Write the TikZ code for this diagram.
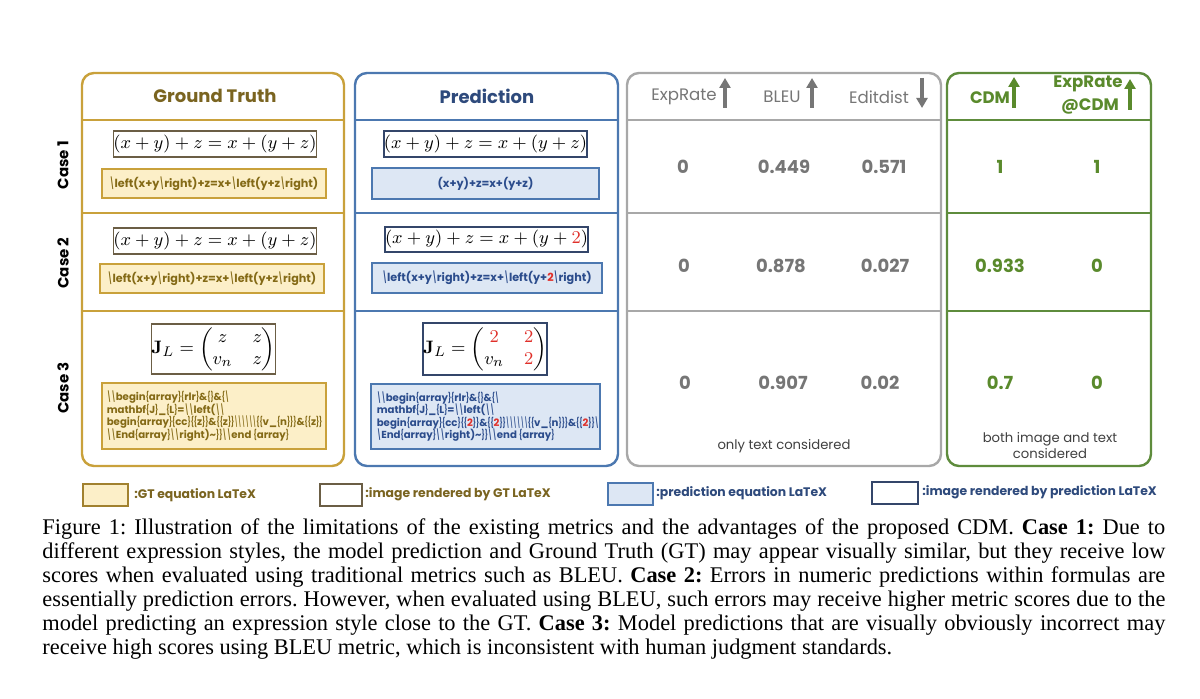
\documentclass[tikz,border=0pt]{standalone}
\usepackage[no-math]{fontspec}
\usepackage{amsmath}
\usepackage{graphicx}
\usetikzlibrary{arrows.meta}
\setmainfont{Poppins}
\newfontfamily\capfont{Liberation Serif}
\definecolor{gtb}{HTML}{C9A13B}
\definecolor{gtf}{HTML}{FCEFC8}
\definecolor{gtt}{HTML}{7A6420}
\definecolor{gtc}{HTML}{846A16}
\definecolor{gti}{HTML}{6B5E45}
\definecolor{prb}{HTML}{4C78B0}
\definecolor{prf}{HTML}{DDE7F4}
\definecolor{prt}{HTML}{2E4A7C}
\definecolor{prc}{HTML}{2B4C8C}
\definecolor{pri}{HTML}{34466A}
\definecolor{grb}{HTML}{A8A8A8}
\definecolor{grt}{HTML}{767676}
\definecolor{gnb}{HTML}{5E8C3C}
\definecolor{gnt}{HTML}{5A8A2C}
\definecolor{rd}{HTML}{E0302A}
\newcommand{\bs}{\scalebox{0.55}[1]{\textbackslash}}
\newcommand{\bsn}{\scalebox{0.45}[1]{\textbackslash}}
\newcommand{\lb}{\scalebox{0.62}[1]{\{}}
\newcommand{\rb}{\scalebox{0.62}[1]{\}}}
\newcommand{\R}[1]{\textcolor{rd}{#1}}
\begin{document}
\begin{tikzpicture}[x=0.5pt,y=-0.5pt,
  panel/.style={draw, line width=1.2pt, rounded corners=6pt, fill=white},
  divider/.style={line width=1.2pt},
  imgbox/.style={draw, line width=0.8pt, fill=white, inner sep=0pt},
  gtcode/.style={draw=gtb, line width=0.8pt, fill=gtf, inner sep=0pt, text=gtc, font=\fontsize{5.6}{6.3}\selectfont\bfseries},
  prcode/.style={draw=prb, line width=0.8pt, fill=prf, inner sep=0pt, text=prc, font=\fontsize{5.6}{6.3}\selectfont\bfseries},
  smallcode/.style={font=\fontsize{5.1}{6.3}\selectfont\bfseries},
  eqfont/.style={font=\fontsize{8.9}{10}\selectfont},
  matfont/.style={font=\fontsize{9.3}{11}\selectfont},
  casel/.style={rotate=90, font=\fontsize{7.5}{9}\selectfont\bfseries, text=black},
  hdr/.style={font=\fontsize{9}{11}\selectfont\bfseries},
  mhdr/.style={font=\fontsize{8.3}{10}\selectfont, text=grt},
  nhdr/.style={font=\fontsize{8.3}{10}\selectfont\bfseries, text=gnt},
  gval/.style={font=\fontsize{9}{11}\selectfont\bfseries, text=grt},
  nval/.style={font=\fontsize{9}{11}\selectfont\bfseries, text=gnt},
  garrow/.style={line width=1.6pt, draw=grt, -{Triangle[width=5.5pt,length=5pt]}},
  narrow/.style={line width=1.6pt, draw=gnt, -{Triangle[width=5.5pt,length=5pt]}},
  legtext/.style={font=\fontsize{6.2}{8}\selectfont\bfseries, anchor=west, inner sep=0pt},
]
\useasboundingbox (0,0) rectangle (1200,699);
\fill[white] (0,0) rectangle (1200,699);

% panels
\draw[panel, draw=gtb] (82,73) rectangle (344,466);
\draw[panel, draw=prb] (355,73) rectangle (618,466);
\draw[panel, draw=grb] (627,73) rectangle (941,466);
\draw[panel, draw=gnb] (947,73) rectangle (1151,466);
\foreach \yy in {120,213,311}{
  \draw[divider, gtb] (82,\yy) -- (344,\yy);
  \draw[divider, prb] (355,\yy) -- (618,\yy);
  \draw[divider, grb] (627,\yy) -- (941,\yy);
  \draw[divider, gnb] (947,\yy) -- (1151,\yy);
}

% headers
\node[hdr, text=gtt] (hgt) at (215,96) {Ground Truth};
\node[hdr, text=prt] (hpr) at (487,96) {Prediction};
\node[mhdr] (hexp) at (684,97) {ExpRate};
\node[mhdr] (hbleu) at (782,97) {BLEU};
\node[mhdr] (hedit) at (879,97) {Editdist};
\node[nhdr] (hcdm) at (990,98) {CDM};
\node[nhdr] (hexpc) at (1088,84) {ExpRate};
\node[nhdr] (hatc) at (1090,106) {@CDM};
\coordinate (a1s) at (725,108); \coordinate (a1e) at (725,78);
\coordinate (a2s) at (812,108); \coordinate (a2e) at (812,78);
\coordinate (a3s) at (922,78);  \coordinate (a3e) at (922,108);
\coordinate (a4s) at (1014,108); \coordinate (a4e) at (1014,77);
\coordinate (a5s) at (1130,110); \coordinate (a5e) at (1130,79);
\draw[garrow] (a1s) -- (a1e);
\draw[garrow] (a2s) -- (a2e);
\draw[garrow] (a3s) -- (a3e);
\draw[narrow] (a4s) -- (a4e);
\draw[narrow] (a5s) -- (a5e);

% case labels
\node[casel] (c1) at (63,165) {Case 1};
\node[casel] (c2) at (63,263) {Case 2};
\node[casel] (c3) at (63,388) {Case 3};

% Case 1
\node[imgbox, draw=gti, minimum width=87pt, minimum height=13pt, eqfont] (g1i) at (215,144) {$(x+y)+z=x+(y+z)$};
\node[gtcode, minimum width=112pt, minimum height=14.5pt] (g1c) at (214,183.5) {\bs left(x+y\bs right)+z=x+\bs left(y+z\bs right)};
\node[imgbox, draw=pri, minimum width=86.5pt, minimum height=13pt, eqfont] (p1i) at (485.5,144) {$(x+y)+z=x+(y+z)$};
\node[prcode, minimum width=113.5pt, minimum height=15.5pt] (p1c) at (485.5,183.5) {(x+y)+z=x+(y+z)};

% Case 2
\node[imgbox, draw=gti, minimum width=87pt, minimum height=13pt, eqfont] (g2i) at (215,241) {$(x+y)+z=x+(y+z)$};
\node[gtcode, minimum width=112pt, minimum height=14.5pt] (g2c) at (212,278.5) {\bs left(x+y\bs right)+z=x+\bs left(y+z\bs right)};
\node[imgbox, draw=pri, minimum width=89.5pt, minimum height=12.5pt, eqfont] (p2i) at (486.5,239.5) {$(x+y)+z=x+(y+\textcolor{rd}{2})$};
\node[prcode, minimum width=115pt, minimum height=15pt] (p2c) at (487,278) {\bs left(x+y\bs right)+z=x+\bs left(y+\R{2}\bs right)};

% Case 3
\node[imgbox, draw=gti, minimum width=61.5pt, minimum height=25pt, matfont] (g3i) at (213.5,349) {$\mathbf{J}_L=\begin{pmatrix} z & z\\ v_n & z\end{pmatrix}$};
\node[gtcode, minimum width=112pt, minimum height=33pt] (g3c) at (214,416) {};
\node[gtcode, smallcode, draw=none, fill=none, align=left, anchor=west] (g3t) at (106,416) {\bs\bs begin\lb array\rb\lb rlr\rb\&\lb\rb\&\lb\bs\\
mathbf\lb J\rb\_\lb L\rb=\bs\bs left(\bs\bs\\
begin\lb array\rb\lb cc\rb\lb\lb z\rb\rb\&\lb\lb z\rb\rb\bsn\bsn\bsn\bsn\bsn\bsn\lb\lb v\_\lb n\rb\rb\rb\&\lb\lb z\rb\rb\\
\bs\bs End\lb array\rb\bs\bs right)\textasciitilde\rb\rb\bs\bs end \lb array\rb};
\node[imgbox, draw=pri, minimum width=59pt, minimum height=26pt, matfont] (p3i) at (485,349) {$\mathbf{J}_L=\begin{pmatrix} \textcolor{rd}{2} & \textcolor{rd}{2}\\ v_n & \textcolor{rd}{2}\end{pmatrix}$};
\node[prcode, minimum width=114.5pt, minimum height=32.5pt] (p3c) at (485.5,416.5) {};
\node[prcode, smallcode, draw=none, fill=none, align=left, anchor=west] (p3t) at (376,416.5) {\bs\bs begin\lb array\rb\lb rlr\rb\&\lb\rb\&\lb\bs\\
mathbf\lb J\rb\_\lb L\rb=\bs\bs left(\bs\bs\\
begin\lb array\rb\lb cc\rb\lb\lb\R{2}\rb\rb\&\lb\lb\R{2}\rb\rb\bsn\bsn\bsn\bsn\bsn\bsn\lb\lb v\_\lb n\rb\rb\rb\&\lb\lb\R{2}\rb\rb\bs\\
\bs End\lb array\rb\bs\bs right)\textasciitilde\rb\rb\bs\bs end \lb array\rb};

% values
\node[gval] (v11) at (683,167) {0};
\node[gval] (v12) at (784,167) {0.449};
\node[gval] (v13) at (884,167) {0.571};
\node[nval] (v14) at (1000,167) {1};
\node[nval] (v15) at (1097,167) {1};
\node[gval] (v21) at (684,266) {0};
\node[gval] (v22) at (781,266) {0.878};
\node[gval] (v23) at (885,266) {0.027};
\node[nval] (v24) at (1000,266) {0.933};
\node[nval] (v25) at (1097,266) {0};
\node[gval] (v31) at (685,383) {0};
\node[gval] (v32) at (783,383) {0.907};
\node[gval] (v33) at (880,383) {0.02};
\node[nval] (v34) at (1000,383) {0.7};
\node[nval] (v35) at (1097,383) {0};
\node[font=\fontsize{6.6}{8}\selectfont, text=black!75] (ot) at (784,446) {only text considered};
\node[font=\fontsize{6.6}{8}\selectfont, text=black!75, align=center] (bt) at (1050,446) {both image and text\\considered};

% legend
\node[draw=gtb!80!black, line width=0.8pt, fill=gtf, minimum width=22.5pt, minimum height=11pt, inner sep=0pt] (l1) at (105.5,495) {};
\node[legtext, text=gtt] (l1t) at (134,495) {:GT equation LaTeX};
\node[draw=gti, line width=0.8pt, fill=white, minimum width=21pt, minimum height=11pt, inner sep=0pt] (l2) at (341,495) {};
\node[legtext, text=gtt] (l2t) at (365,494) {:image rendered by GT LaTeX};
\node[draw=prb, line width=0.8pt, fill=prf, minimum width=22.5pt, minimum height=11pt, inner sep=0pt] (l3) at (630.5,494) {};
\node[legtext, text=prt] (l3t) at (656,493) {:prediction equation LaTeX};
\node[draw=pri, line width=0.8pt, fill=white, minimum width=23pt, minimum height=11pt, inner sep=0pt] (l4) at (895,493) {};
\node[legtext, text=prt] (l4t) at (922,492) {:image rendered by prediction LaTeX};

% caption
\node[anchor=north west, inner sep=0pt, text width=561.5pt, align=justify, font=\capfont\fontsize{11.2}{12}\selectfont\frenchspacing] (cap) at (42,518) {Figure 1: Illustration of the limitations of the existing metrics and the advantages of the proposed CDM. \textbf{Case 1:} Due to\linebreak
different expression styles, the model prediction and Ground Truth (GT) may appear visually similar, but they receive low\linebreak
scores when evaluated using traditional metrics such as BLEU. \textbf{Case 2:} Errors in numeric predictions within formulas are\linebreak
essentially prediction errors. However, when evaluated using BLEU, such errors may receive higher metric scores due to the\linebreak
model predicting an expression style close to the GT. \textbf{Case 3:} Model predictions that are visually obviously incorrect may\linebreak
receive high scores using BLEU metric, which is inconsistent with human judgment standards.};
\end{tikzpicture}
\end{document}
